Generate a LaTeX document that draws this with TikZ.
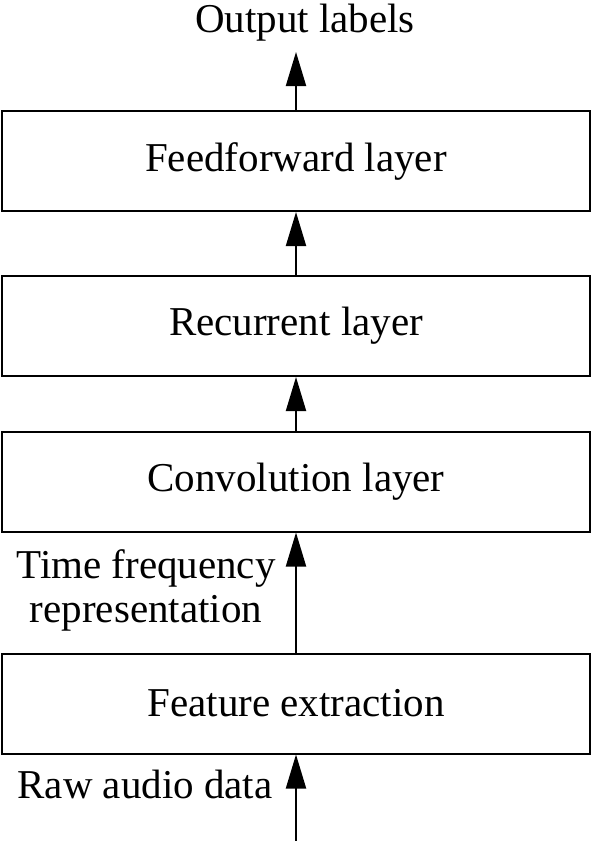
\documentclass[tikz,border=0pt]{standalone}
\usepackage{fontspec}
\setmainfont{Liberation Serif}
\usetikzlibrary{arrows.meta}
\begin{document}
\begin{tikzpicture}[x=1pt,y=-1pt,
  layerbox/.style={draw=black,line width=2pt,minimum width=588pt,minimum height=100pt,inner sep=0pt,font=\fontsize{41}{44}\selectfont},
  lbl/.style={font=\fontsize{41}{44}\selectfont,inner sep=0pt,align=center},
  flow/.style={line width=2pt,-{Triangle[length=34pt,width=20pt]}}]
\useasboundingbox (0,0) rectangle (594,841);
\node[layerbox] (ff) at (296,161) {Feedforward layer};
\node[layerbox] (rec) at (296,326) {Recurrent layer};
\node[layerbox] (conv) at (296,481.5) {Convolution layer};
\node[layerbox] (fe) at (296,703.5) {Feature extraction};
\node[lbl] (out) at (305,23) {Output labels};
\node[lbl] (tf) at (146,590) {Time frequency\\representation};
\node[lbl] (raw) at (145,784) {Raw audio data};
\coordinate (outtip) at (296,52);
\coordinate (rawstart) at (296,841);
\draw[flow] (ff.north) -- (outtip);
\draw[flow] (rec.north) -- (ff.south);
\draw[flow] (conv.north) -- (rec.south);
\draw[flow] (fe.north) -- (conv.south);
\draw[flow] (rawstart) -- (fe.south);
\end{tikzpicture}
\end{document}
